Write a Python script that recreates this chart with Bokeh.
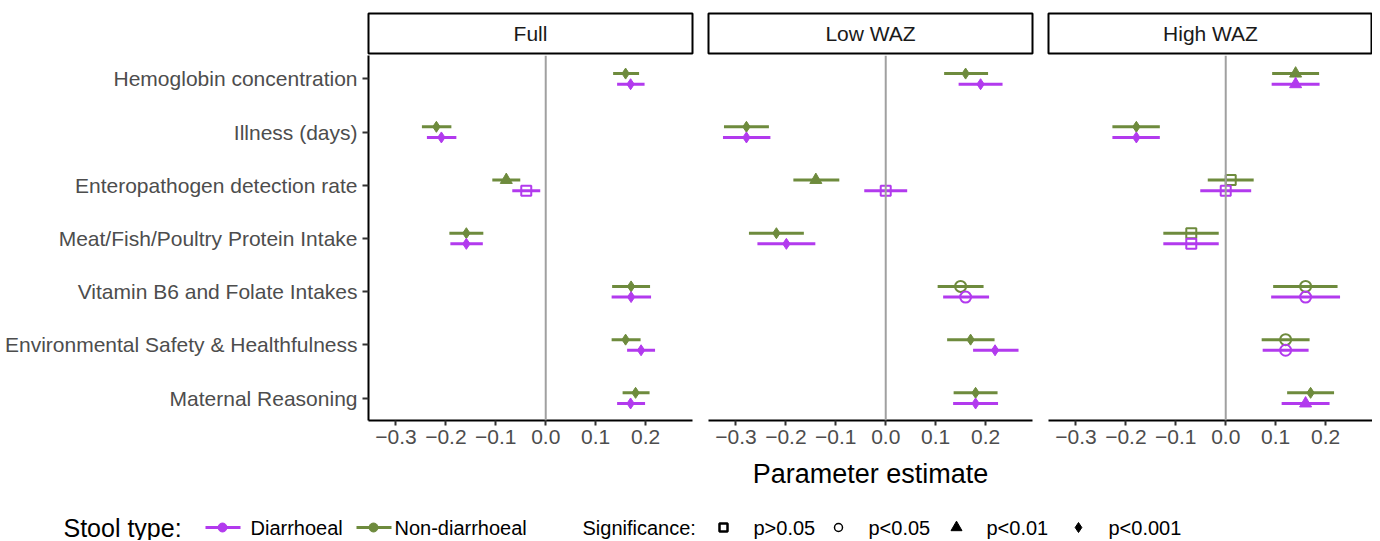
from bokeh.plotting import figure
from bokeh.models import Range1d, FixedTicker, CustomJSTickFormatter, Span, ColumnDataSource
from bokeh.layouts import column, row
from bokeh.embed import file_html
from bokeh.resources import INLINE
from bokeh.core.properties import value

# ---------------- data ----------------
categories = [
    "Hemoglobin concentration",
    "Illness (days)",
    "Enteropathogen detection rate",
    "Meat/Fish/Poultry Protein Intake",
    "Vitamin B6 and Folate Intakes",
    "Environmental Safety & Healthfulness",
    "Maternal Reasoning",
]
panels = ["Full", "Low WAZ", "High WAZ"]
stool_types = ["Diarrhoeal", "Non-diarrhoeal"]
sig_levels = ["p>0.05", "p<0.05", "p<0.01", "p<0.001"]
x_ticks = [-0.3, -0.2, -0.1, 0.0, 0.1, 0.2]
x_title = "Parameter estimate"

# Full
full_diar_est = [0.170, -0.209, -0.039, -0.159, 0.171, 0.191, 0.170]
full_diar_lo = [0.143, -0.238, -0.067, -0.191, 0.132, 0.163, 0.143]
full_diar_hi = [0.198, -0.179, -0.011, -0.126, 0.211, 0.219, 0.199]
full_diar_sig = ["p<0.001", "p<0.001", "p>0.05", "p<0.001", "p<0.001", "p<0.001", "p<0.001"]
full_non_est = [0.160, -0.219, -0.079, -0.159, 0.171, 0.160, 0.180]
full_non_lo = [0.135, -0.248, -0.107, -0.193, 0.133, 0.132, 0.154]
full_non_hi = [0.187, -0.189, -0.051, -0.125, 0.209, 0.190, 0.208]
full_non_sig = ["p<0.001", "p<0.001", "p<0.01", "p<0.001", "p<0.001", "p<0.001", "p<0.001"]

# Low WAZ
low_diar_est = [0.190, -0.279, 0.000, -0.199, 0.160, 0.219, 0.180]
low_diar_lo = [0.146, -0.326, -0.043, -0.257, 0.115, 0.175, 0.135]
low_diar_hi = [0.234, -0.231, 0.043, -0.141, 0.207, 0.266, 0.225]
low_diar_sig = ["p<0.001", "p<0.001", "p>0.05", "p<0.001", "p<0.05", "p<0.001", "p<0.001"]
low_non_est = [0.160, -0.279, -0.140, -0.219, 0.150, 0.170, 0.180]
low_non_lo = [0.117, -0.324, -0.185, -0.274, 0.104, 0.123, 0.136]
low_non_hi = [0.205, -0.234, -0.093, -0.164, 0.196, 0.218, 0.224]
low_non_sig = ["p<0.001", "p<0.001", "p<0.01", "p<0.001", "p<0.05", "p<0.001", "p<0.001"]

# High WAZ
high_diar_est = [0.140, -0.179, 0.000, -0.069, 0.160, 0.120, 0.160]
high_diar_lo = [0.092, -0.227, -0.051, -0.125, 0.091, 0.074, 0.112]
high_diar_hi = [0.188, -0.132, 0.051, -0.014, 0.229, 0.166, 0.208]
high_diar_sig = ["p<0.01", "p<0.001", "p>0.05", "p>0.05", "p<0.05", "p<0.05", "p<0.01"]
high_non_est = [0.140, -0.179, 0.010, -0.069, 0.160, 0.120, 0.170]
high_non_lo = [0.093, -0.227, -0.036, -0.125, 0.095, 0.072, 0.123]
high_non_hi = [0.187, -0.132, 0.056, -0.014, 0.224, 0.168, 0.217]
high_non_sig = ["p<0.01", "p<0.001", "p>0.05", "p>0.05", "p<0.05", "p<0.05", "p<0.001"]

panel_data = {
    "Full": {
        "Diarrhoeal": (full_diar_est, full_diar_lo, full_diar_hi, full_diar_sig),
        "Non-diarrhoeal": (full_non_est, full_non_lo, full_non_hi, full_non_sig),
    },
    "Low WAZ": {
        "Diarrhoeal": (low_diar_est, low_diar_lo, low_diar_hi, low_diar_sig),
        "Non-diarrhoeal": (low_non_est, low_non_lo, low_non_hi, low_non_sig),
    },
    "High WAZ": {
        "Diarrhoeal": (high_diar_est, high_diar_lo, high_diar_hi, high_diar_sig),
        "Non-diarrhoeal": (high_non_est, high_non_lo, high_non_hi, high_non_sig),
    },
}

# ---------------- style ----------------
FONT = "Liberation Sans"
COLORS = {"Diarrhoeal": "#B23AEE", "Non-diarrhoeal": "#6E8B3D"}
DODGE = {"Diarrhoeal": -0.1, "Non-diarrhoeal": 0.1}
# marker, size, filled
MARKERS = {
    "p>0.05": ("square", 10, False),
    "p<0.05": ("circle", 11, False),
    "p<0.01": ("triangle", 12, True),
    "p<0.001": ("diamond", 11, True),
}
LEG_MARKERS = {
    "p>0.05": ("square", 8, False, 2.5),
    "p<0.05": ("circle", 8, False, 1.5),
    "p<0.01": ("triangle", 11, True, 1),
    "p<0.001": ("diamond", 10, True, 1),
}
TXT_GREY = "#4D4D4D"
n = len(categories)
ypos = [n - i for i in range(n)]
tick_fmt = CustomJSTickFormatter(code="return tick.toFixed(1).replace('-', '\\u2212');")

strips = []
mains = []
for i, name in enumerate(panels):
    left = 368 if i == 0 else 8
    right = 0 if i == len(panels) - 1 else 8

    s = figure(frame_width=324, frame_height=40, x_range=Range1d(0, 1), y_range=Range1d(0, 1),
               output_backend="svg", toolbar_location=None, x_axis_location=None, y_axis_location=None,
               min_border_left=left, min_border_right=right, min_border_top=13, min_border_bottom=2)
    s.grid.visible = False
    s.outline_line_color = "black"
    s.outline_line_width = 2
    s.background_fill_color = "white"
    s.text(x=[0.5], y=[0.5], text=[name], text_font=value(FONT), text_font_size=value("21px"),
           text_color="#1A1A1A", text_align="center", text_baseline="middle")
    strips.append(s)

    p = figure(frame_width=324, frame_height=365, x_range=Range1d(-0.355, 0.294), y_range=Range1d(0.58, 7.44),
               output_backend="svg", toolbar_location=None,
               y_axis_location="left" if i == 0 else None,
               min_border_left=left, min_border_right=right, min_border_top=0, min_border_bottom=36)
    p.grid.visible = False
    p.outline_line_color = None
    p.xaxis.ticker = FixedTicker(ticks=x_ticks)
    p.xaxis.formatter = tick_fmt
    p.xaxis.axis_line_width = 2
    p.xaxis.axis_line_color = "black"
    p.xaxis.major_tick_line_width = 2
    p.xaxis.major_tick_line_color = "#333333"
    p.xaxis.major_tick_out = 5
    p.xaxis.major_tick_in = 0
    p.xaxis.minor_tick_line_color = None
    p.xaxis.major_label_standoff = 4
    p.xaxis.major_label_text_font = FONT
    p.xaxis.major_label_text_font_size = "21px"
    p.xaxis.major_label_text_color = TXT_GREY
    if i == 0:
        p.yaxis.ticker = FixedTicker(ticks=ypos)
        p.yaxis.major_label_overrides = {y: c for y, c in zip(ypos, categories)}
        p.yaxis.axis_line_width = 2
        p.yaxis.axis_line_color = "black"
        p.yaxis.major_tick_line_width = 2
        p.yaxis.major_tick_line_color = "#333333"
        p.yaxis.major_tick_out = 6
        p.yaxis.major_tick_in = 0
        p.yaxis.minor_tick_line_color = None
        p.yaxis.major_label_standoff = 5
        p.yaxis.major_label_text_font = FONT
        p.yaxis.major_label_text_font_size = "21px"
        p.yaxis.major_label_text_color = TXT_GREY

    p.add_layout(Span(location=0, dimension="height", line_color="#A0A0A0", line_width=2))

    for st in ["Non-diarrhoeal", "Diarrhoeal"]:
        est, lo, hi, sig = panel_data[name][st]
        ys = [y + DODGE[st] for y in ypos]
        src = ColumnDataSource(dict(
            x=est, lo=lo, hi=hi, y=ys,
            marker=[MARKERS[s_][0] for s_ in sig],
            size=[MARKERS[s_][1] for s_ in sig],
            falpha=[1.0 if MARKERS[s_][2] else 0.0 for s_ in sig],
            lw=[1.0 if MARKERS[s_][2] else 2.0 for s_ in sig],
        ))
        p.segment(x0="lo", y0="y", x1="hi", y1="y", source=src, line_color=COLORS[st],
                  line_width=3, line_cap="butt")
        p.scatter(x="x", y="y", marker="marker", size="size", source=src,
                  fill_color=COLORS[st], fill_alpha="falpha", line_color=COLORS[st], line_width="lw")
    mains.append(p)

# ---------------- bottom: axis title + legends ----------------
BW, BH = 1372, 84
b = figure(width=BW, height=BH, x_range=Range1d(0, BW), y_range=Range1d(BH, 0),
           output_backend="svg", toolbar_location=None, x_axis_location=None, y_axis_location=None,
           min_border=0)
b.grid.visible = False
b.outline_line_color = None
b.text(x=[870], y=[17], text=[x_title], text_font=value(FONT), text_font_size=value("27px"),
       text_color="black", text_align="center", text_baseline="middle")

LY = 71
b.text(x=[63], y=[LY], text=["Stool type:"], text_font=value(FONT), text_font_size=value("25px"),
       text_color="black", text_align="left", text_baseline="middle")
stool_x = [205, 356]
for st, x0 in zip(stool_types, stool_x):
    b.segment(x0=[x0], y0=[LY], x1=[x0 + 35], y1=[LY], line_color=COLORS[st], line_width=3)
    b.scatter(x=[x0 + 17], y=[LY], marker="circle", size=9, fill_color=COLORS[st], line_color=COLORS[st])
    b.text(x=[x0 + 45 if st == "Diarrhoeal" else x0 + 38], y=[LY], text=[st], text_font=value(FONT),
           text_font_size=value("20px"), text_color="black", text_align="left", text_baseline="middle")

b.text(x=[582], y=[LY], text=["Significance:"], text_font=value(FONT), text_font_size=value("20px"),
       text_color="black", text_align="left", text_baseline="middle")
sig_x = [723, 838, 956, 1078]
for sg, x0 in zip(sig_levels, sig_x):
    mk, sz, filled, lw = LEG_MARKERS[sg]
    b.scatter(x=[x0], y=[LY], marker=mk, size=sz, fill_color="black", fill_alpha=1.0 if filled else 0.0,
              line_color="black", line_width=lw)
    b.text(x=[x0 + 30], y=[LY], text=[sg], text_font=value(FONT), text_font_size=value("20px"),
           text_color="black", text_align="left", text_baseline="middle")

layout = column(row(*strips), row(*mains), b)
open("out.html", "w").write(file_html(layout, INLINE))
